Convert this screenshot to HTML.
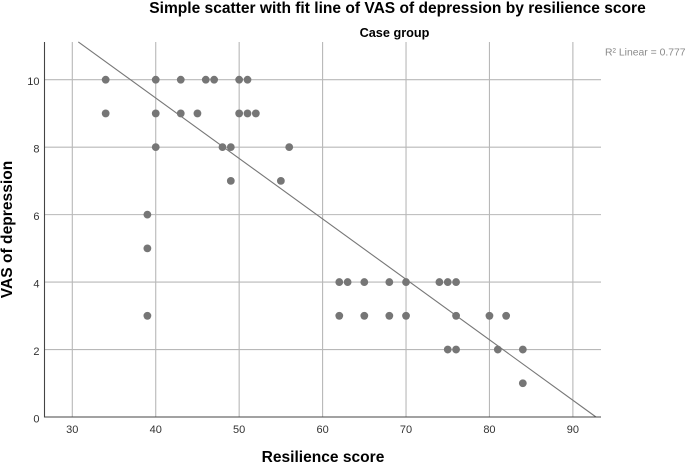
<!DOCTYPE html>
<html>
<head>
<meta charset="utf-8">
<style>
html,body{margin:0;padding:0;background:#fff;}
svg{display:block;font-family:"Liberation Sans",Arial,sans-serif;}
</style>
</head>
<body>
<svg id="chart" width="685" height="463" viewBox="0 0 685 463" xmlns="http://www.w3.org/2000/svg">
  <text x="397.5" y="13" text-anchor="middle" font-size="15.55" font-weight="bold" fill="#000">Simple scatter with fit line of VAS of depression by resilience score</text>
  <text x="394.5" y="37" text-anchor="middle" font-size="12.7" font-weight="bold" fill="#000">Case group</text>
  <text x="605" y="55.5" font-size="10.4" fill="#8a8a8a">R² Linear = 0.777</text>
  <text transform="translate(12,229.5) rotate(-90)" text-anchor="middle" font-size="15.6" font-weight="bold" fill="#000">VAS of depression</text>
  <text x="323" y="462" text-anchor="middle" font-size="15.55" font-weight="bold" fill="#000">Resilience score</text>
  <g id="grid"></g>
  <g id="ticks"></g>
  <g id="points"></g>
  <g id="fit"></g>
  <g id="axes"></g>
</svg>
<script>
const xTicks = [30, 40, 50, 60, 70, 80, 90];
const yTicks = [0, 2, 4, 6, 8, 10];
const resilienceScores = [
  34, 40, 43, 46, 47, 50, 51,
  34, 40, 43, 45, 50, 51, 52,
  40, 48, 49, 56,
  49, 55,
  39,
  39,
  62, 63, 65, 68, 70, 74, 75, 76,
  39, 62, 65, 68, 70, 76, 80, 82,
  75, 76, 81, 84,
  84
];
const depressionScores = [
  10, 10, 10, 10, 10, 10, 10,
  9, 9, 9, 9, 9, 9, 9,
  8, 8, 8, 8,
  7, 7,
  6,
  5,
  4, 4, 4, 4, 4, 4, 4, 4,
  3, 3, 3, 3, 3, 3, 3, 3,
  2, 2, 2, 2,
  1
];
const fitLineX = [30.72, 92.77];
const fitLineY = [11.12, 0];

const plotLeft = 44.5, plotRight = 601, plotTop = 42, plotBottom = 417;
const sx = v => 72.3 + (v - 30) * 8.343;
const sy = v => 417 - v * 33.73;
const NS = 'http://www.w3.org/2000/svg';
function mk(parent, tag, attrs, text) {
  const el = document.createElementNS(NS, tag);
  for (const k in attrs) el.setAttribute(k, attrs[k]);
  if (text !== undefined) el.textContent = text;
  parent.appendChild(el);
  return el;
}
const grid = document.getElementById('grid');
const ticks = document.getElementById('ticks');
const points = document.getElementById('points');
const fit = document.getElementById('fit');
const axes = document.getElementById('axes');

xTicks.forEach(t => {
  const line = mk(grid, 'line', {x1: sx(t), x2: sx(t), y1: plotTop, y2: plotBottom, stroke: '#b8b8b8', 'stroke-width': 1.1});
  
  
  const label = mk(ticks, 'text', {x: sx(t), y: 433, 'text-anchor': 'middle', 'font-size': 11, fill: '#333'}, t);
  
  
});
yTicks.forEach(t => {
  if (t > 0) {
    const line = mk(grid, 'line', {x1: plotLeft, x2: plotRight, y1: sy(t), y2: sy(t), stroke: '#b8b8b8', 'stroke-width': 1.1});
    
    
  }
  const label = mk(ticks, 'text', {x: 39.5, y: sy(t) + 5.5, 'text-anchor': 'end', 'font-size': 11, fill: '#333'}, t);
  
  
});
resilienceScores.forEach((x, i) => {
  const dot = mk(points, 'circle', {cx: sx(x), cy: sy(depressionScores[i]), r: 3.9, fill: '#767676'});
  
  
});
const fitLine = mk(fit, 'line', {x1: sx(fitLineX[0]), y1: sy(fitLineY[0]), x2: sx(fitLineX[1]), y2: sy(fitLineY[1]), stroke: '#777', 'stroke-width': 1.1});


const yAxis = mk(axes, 'line', {x1: plotLeft, x2: plotLeft, y1: plotTop, y2: plotBottom + 0.5, stroke: '#444', 'stroke-width': 1.1});


const xAxis = mk(axes, 'line', {x1: plotLeft, x2: plotRight, y1: plotBottom, y2: plotBottom, stroke: '#444', 'stroke-width': 1.1});


</script>
</body>
</html>
